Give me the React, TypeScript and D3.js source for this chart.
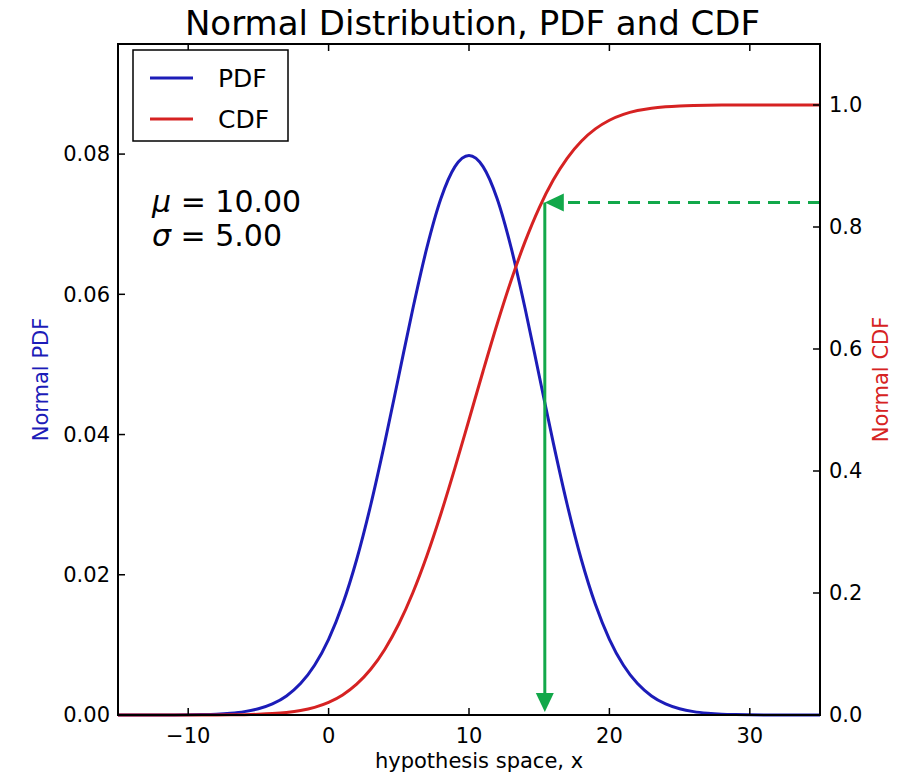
import React, { useEffect } from 'react';
import * as d3 from 'd3';

// sample points along hypothesis space
const xValues = [
  -15, -14, -13, -12, -11, -10, -9, -8, -7, -6, -5, -4, -3, -2, -1, 0, 1, 2, 3, 4, 5, 6, 7, 8, 9, 10,
  11, 12, 13, 14, 15, 16, 17, 18, 19, 20, 21, 22, 23, 24, 25, 26, 27, 28, 29, 30, 31, 32, 33, 34, 35,
];
const pdfValues = [
  0, 0, 0, 0.000005, 0.000012, 0.000027, 0.000058, 0.00012, 0.00025, 0.00048, 0.00089, 0.00158, 0.00272,
  0.00448, 0.00709, 0.0108, 0.01579, 0.02218, 0.02995, 0.03884, 0.04839, 0.05794, 0.06665, 0.07366,
  0.07821, 0.07979, 0.07821, 0.07366, 0.06665, 0.05794, 0.04839, 0.03884, 0.02995, 0.02218, 0.01579,
  0.0108, 0.00709, 0.00448, 0.00272, 0.00158, 0.00089, 0.00048, 0.00025, 0.00012, 0.00006, 0.00003,
  0.00001, 0, 0, 0, 0,
];
const cdfValues = [
  0, 0, 0, 0, 0.00001, 0.00003, 0.00006, 0.00014, 0.0003, 0.0006, 0.00118, 0.00226, 0.00415, 0.00734,
  0.01255, 0.02068, 0.03288, 0.0505, 0.07493, 0.10749, 0.14917, 0.20045, 0.26109, 0.32997, 0.40517,
  0.48405, 0.56356, 0.64058, 0.71226, 0.77637, 0.83147, 0.87698, 0.91309, 0.94062, 0.9608, 0.975,
  0.98461, 0.99086, 0.99477, 0.99711, 0.99846, 0.99921, 0.99961, 0.99981, 0.99991, 1, 1, 1, 1, 1, 1,
];

const xTicks = [-10, 0, 10, 20, 30];
const pdfTicks = [0, 0.02, 0.04, 0.06, 0.08];
const cdfTicks = [0, 0.2, 0.4, 0.6, 0.8, 1.0];
const xDomain = [-15, 35];
const pdfDomain = [0, 0.0957];
const cdfDomain = [0, 1.1];

// the marked point: x and its CDF level
const markX = 15.4;
const markLevel = 0.84;

const BLUE = '#1c1cb8';
const RED = '#d62222';
const GREEN = '#12a84a';
const FONT = '"DejaVu Sans", sans-serif';

const App = () => {
  useEffect(() => {
    document.body.style.margin = '0';
  }, []);

  const width = 905;
  const height = 773;
  const m = { t: 44, r: 85, b: 58, l: 118 };
  const w = width - m.l - m.r;
  const h = height - m.t - m.b;

  const x = d3.scaleLinear().domain(xDomain).range([0, w]);
  const yPdf = d3.scaleLinear().domain(pdfDomain).range([h, 0]);
  const yCdf = d3.scaleLinear().domain(cdfDomain).range([h, 0]);

  const pdfLine = d3
    .line<number>()
    .x((_, i) => x(xValues[i]))
    .y((d) => yPdf(d))
    .curve(d3.curveMonotoneX)(pdfValues);
  const cdfLine = d3
    .line<number>()
    .x((_, i) => x(xValues[i]))
    .y((d) => yCdf(d))
    .curve(d3.curveMonotoneX)(cdfValues);

  const fmtPdf = d3.format('.2f');
  const fmtCdf = d3.format('.1f');
  const tickLen = 7;

  // green arrows
  const gx = x(markX);
  const gy = yCdf(markLevel);
  const headL = 19;
  const headW = 9;

  return (
    <svg width={width} height={height} style={{ display: 'block', background: '#fff' }} fontFamily={FONT}>
      <text x={width / 2 + 20} y={35} textAnchor="middle" fontSize={34} fill="#000">
        Normal Distribution, PDF and CDF
      </text>
      <g transform={`translate(${m.l}, ${m.t})`}>
        <path d={pdfLine || ''} fill="none" stroke={BLUE} strokeWidth={3} />
        <path d={cdfLine || ''} fill="none" stroke={RED} strokeWidth={3} />

        {/* dashed level arrow, pointing left */}
        <line x1={w} y1={gy} x2={gx + headL} y2={gy} stroke={GREEN} strokeWidth={3} strokeDasharray="12,8" />
        <path d={`M${gx},${gy} L${gx + headL},${gy - headW} L${gx + headL},${gy + headW} Z`} fill={GREEN} />
        {/* solid drop arrow, pointing down */}
        <line x1={gx} y1={gy} x2={gx} y2={h - 3 - headL} stroke={GREEN} strokeWidth={3} />
        <path
          d={`M${gx},${h - 3} L${gx - headW},${h - 3 - headL} L${gx + headW},${h - 3 - headL} Z`}
          fill={GREEN}
        />

        {/* frame */}
        <rect x={0} y={0} width={w} height={h} fill="none" stroke="#000" strokeWidth={2} />

        {xTicks.map((t) => (
          <g key={`x${t}`}>
            <line x1={x(t)} x2={x(t)} y1={h} y2={h - tickLen} stroke="#000" strokeWidth={1.5} />
            <line x1={x(t)} x2={x(t)} y1={0} y2={tickLen} stroke="#000" strokeWidth={1.5} />
            <text x={x(t)} y={h + 28} textAnchor="middle" fontSize={21} fill="#000">
              {String(t).replace('-', '\u2212')}
            </text>
          </g>
        ))}
        {pdfTicks.map((t) => (
          <g key={`p${t}`}>
            <line x1={0} x2={tickLen} y1={yPdf(t)} y2={yPdf(t)} stroke="#000" strokeWidth={1.5} />
            <text x={-8} y={yPdf(t)} dy="0.35em" textAnchor="end" fontSize={21} fill="#000">
              {fmtPdf(t)}
            </text>
          </g>
        ))}
        {cdfTicks.map((t) => (
          <g key={`c${t}`}>
            <line x1={w - tickLen} x2={w} y1={yCdf(t)} y2={yCdf(t)} stroke="#000" strokeWidth={1.5} />
            <text x={w + 9} y={yCdf(t)} dy="0.35em" textAnchor="start" fontSize={21} fill="#000">
              {fmtCdf(t)}
            </text>
          </g>
        ))}

        {/* legend */}
        <rect x={15} y={6} width={155} height={91} fill="#fff" stroke="#000" strokeWidth={1.5} />
        <line x1={32} x2={75} y1={34} y2={34} stroke={BLUE} strokeWidth={3} />
        <text x={100} y={34} dy="0.35em" fontSize={25} fill="#000">PDF</text>
        <line x1={32} x2={75} y1={75} y2={75} stroke={RED} strokeWidth={3} />
        <text x={100} y={75} dy="0.35em" fontSize={25} fill="#000">CDF</text>

        <text x={34} y={168} fontSize={30} fill="#000">
          <tspan fontStyle="italic">μ</tspan> = 10.00
        </text>
        <text x={34} y={202} fontSize={30} fill="#000">
          <tspan fontStyle="italic">σ</tspan> = 5.00
        </text>

        <text x={w / 2 + 10} y={h + 53} textAnchor="middle" fontSize={21} fill="#000">
          hypothesis space, x
        </text>
        <text
          transform={`translate(${-70}, ${h / 2}) rotate(-90)`}
          textAnchor="middle"
          fontSize={21}
          fill={BLUE}
        >
          Normal PDF
        </text>
        <text
          transform={`translate(${w + 68}, ${h / 2}) rotate(-90)`}
          textAnchor="middle"
          fontSize={21}
          fill={RED}
        >
          Normal CDF
        </text>
      </g>
    </svg>
  );
};

export default App;
